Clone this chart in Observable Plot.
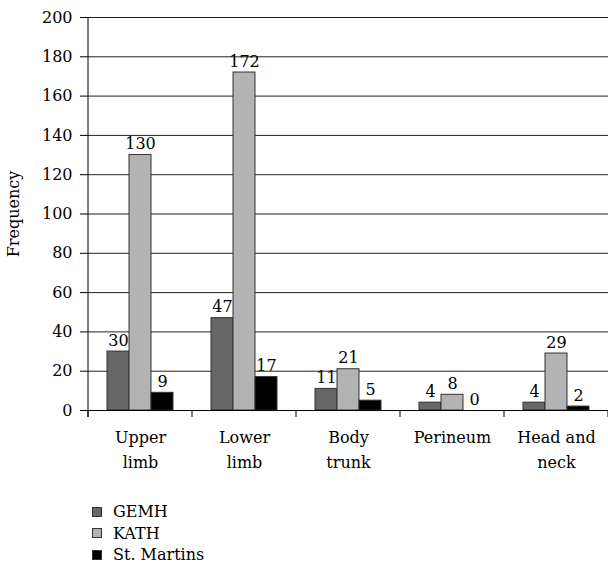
<!DOCTYPE html>
<html><head>
<meta charset="utf-8">
<script src="https://cdn.jsdelivr.net/npm/d3@7"></script>
<script src="https://cdn.jsdelivr.net/npm/@observablehq/plot@0.6"></script>
<style>
body{margin:0;background:#fff;font-family:"DejaVu Serif",serif;color:#000}
svg, svg text{font-family:"DejaVu Serif",serif !important;font-size:16px !important}
#legend{margin-left:92px;padding-top:21px;font-size:16px;font-family:"DejaVu Serif",serif}
.row{display:flex;align-items:center;height:21.5px}
.sw{width:10px;height:10px;border:1px solid #333;box-sizing:border-box;margin-right:11px}
</style>
</head><body><div id="chart"></div><div id="legend"></div><script>
const regions = ["Upper limb","Lower limb","Body trunk","Perineum","Head and neck"];
const regionLabels = ["Upper\nlimb","Lower\nlimb","Body\ntrunk","Perineum","Head and\nneck"];
const hospitals = ["GEMH","KATH","St. Martins"];
const gemh = [30,47,11,4,4];
const kath = [130,172,21,8,29];
const stMartins = [9,17,5,0,2];
const colors = ["#666666","#b3b3b3","#000000"];
const yTicks = d3.range(0,201,20);

const series = [gemh,kath,stMartins];
const data = regions.flatMap((r,i)=>hospitals.map((h,j)=>({region:r,hospital:h,value:series[j][i]})));

const chart = Plot.plot({
  width:608, height:480,
  marginLeft:87, marginRight:0, marginTop:17, marginBottom:70,
  style:{background:"#fff",color:"#000"},
  fx:{domain:regions,padding:0,label:null},
  x:{domain:hospitals,paddingInner:0,paddingOuter:0.77,axis:null},
  y:{domain:[0,200]},
  color:{domain:hospitals,range:colors},
  marks:[
    Plot.gridY(yTicks,{stroke:"#222",strokeOpacity:1}),
    Plot.axisY(yTicks,{tickSize:8,tickPadding:8,fontSize:16,label:"Frequency",labelAnchor:"center",labelOffset:81,labelArrow:"none"}),
    Plot.axisFx({anchor:"bottom",tickSize:0,tickPadding:14,fontSize:16,lineHeight:1.6,label:null,tickFormat:d=>regionLabels[regions.indexOf(d)]}),
    Plot.barY(data,{fx:"region",x:"hospital",y:"value",fill:"hospital",stroke:"#333",strokeWidth:1}),
    Plot.text(data,{fx:"region",x:"hospital",y:"value",text:"value",dy:-6,lineAnchor:"bottom",fontSize:16,fill:"#000"}),
    Plot.ruleY([0],{stroke:"#000"})
  ]
});
document.getElementById("chart").appendChild(chart);

// axis line and category boundary ticks
const fx = chart.scale("fx");
const yS = chart.scale("y");
const svg = d3.select(chart);
const y0 = yS.apply(0), yTop = yS.apply(200);
const x0 = fx.apply(regions[0]);
svg.append("line").attr("x1",x0).attr("x2",x0).attr("y1",yTop).attr("y2",y0+7).attr("stroke","#000");
const bounds = regions.map(r=>fx.apply(r)).concat([fx.apply(regions[regions.length-1])+fx.bandwidth]);
bounds.forEach(b=>svg.append("line").attr("x1",b).attr("x2",b).attr("y1",y0).attr("y2",y0+7).attr("stroke","#000"));

const legend = d3.select("#legend");
hospitals.forEach((h,i)=>{
  const row = legend.append("div").attr("class","row");
  row.append("div").attr("class","sw").style("background",colors[i]);
  row.append("span").text(h);
});
</script></body></html>
